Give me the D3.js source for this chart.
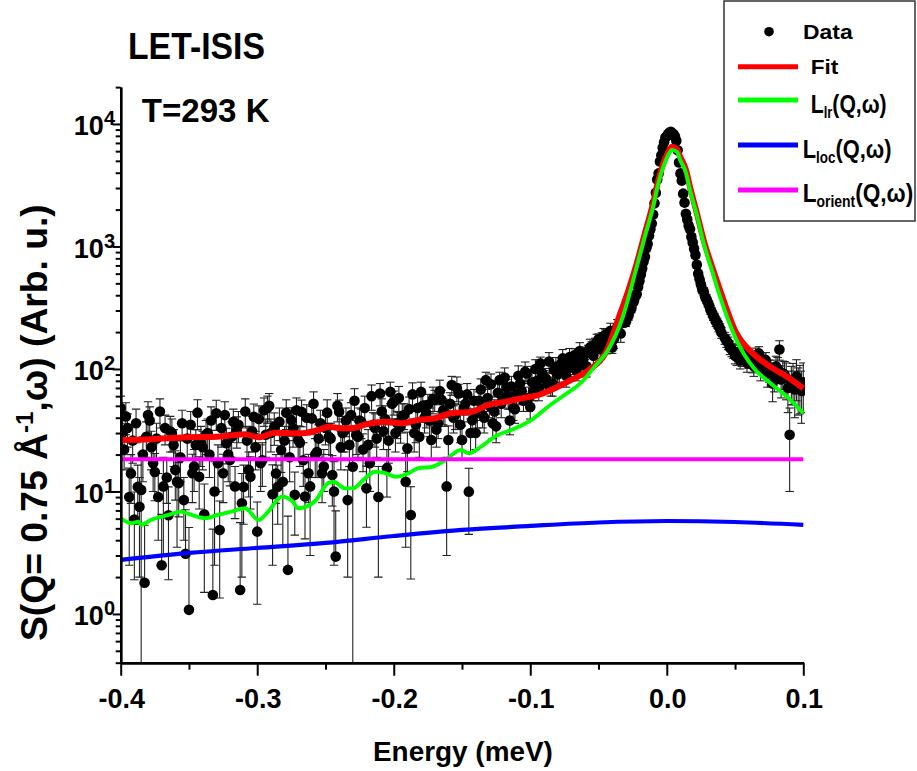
<!DOCTYPE html>
<html>
<head>
<meta charset="utf-8">
<title>LET-ISIS S(Q,ω)</title>
<script src="https://cdn.jsdelivr.net/npm/d3@7/dist/d3.min.js"></script>
<style>
html,body{margin:0;padding:0;background:#fff;}
svg{display:block;}
text{font-family:"Liberation Sans",Arial,Helvetica,sans-serif;font-weight:bold;fill:#000;}
</style>
</head>
<body>
<svg id="chart" width="917" height="771"></svg>
<script>
// ---------------- data ----------------
// Data series, part A
const energy = [
-0.4,-0.3975,-0.395,-0.3925,-0.39,-0.3875,-0.385,-0.3825,-0.38,-0.3775,
-0.375,-0.3725,-0.37,-0.3675,-0.365,-0.3625,-0.36,-0.3575,-0.355,-0.3525,
-0.35,-0.3475,-0.345,-0.3425,-0.34,-0.3375,-0.335,-0.3325,-0.33,-0.3275,
-0.325,-0.3225,-0.32,-0.3175,-0.315,-0.3125,-0.31,-0.3075,-0.305,-0.3025,
-0.3,-0.2975,-0.295,-0.2925,-0.29,-0.2875,-0.285,-0.2825,-0.28,-0.2775,
-0.275,-0.2725,-0.27,-0.2675,-0.265,-0.2625,-0.26,-0.2575,-0.255,-0.2525,
-0.25,-0.2475,-0.245,-0.2425,-0.24,-0.2375,-0.235,-0.2325,-0.23,-0.2275,
-0.225,-0.2225,-0.22,-0.2175,-0.215,-0.2125,-0.21,-0.2075,-0.205,-0.2025,
-0.2,-0.1975,-0.195,-0.1925,-0.19,-0.1875,-0.185,-0.1825,-0.18,-0.1775,
-0.175,-0.1725,-0.17,-0.1675,-0.165,-0.1625,-0.16,-0.1575,-0.155,-0.1525,
-0.15,-0.1475,-0.145,-0.1425,-0.14,-0.1375,-0.135,-0.1325,-0.13,-0.1275,
-0.125,-0.1225,-0.12,-0.1175,-0.115,-0.1125,-0.11,-0.1075,-0.105,-0.1025,
-0.1,-0.0975,-0.095,-0.0925,-0.09,-0.0875,-0.085,-0.0825,-0.08,-0.0775,
-0.075,-0.0725,-0.07,-0.0675,-0.065,-0.0625,-0.06,-0.0575,-0.055,-0.0525,
-0.05,-0.0475,-0.045,-0.0425,-0.04,-0.0375,-0.035,-0.0325,
-0.03,-0.029,-0.028,-0.027,-0.026,-0.025,-0.024,-0.023,-0.022,-0.021,
-0.02,-0.019,-0.018,-0.017,-0.016,-0.015,-0.014,-0.013,-0.012,-0.011,
-0.01,-0.009,-0.008,-0.007,-0.006,-0.005,-0.004,-0.003,-0.002,-0.001,
0,0.001,0.002,0.003,0.004,0.005,0.006,0.007,0.008,0.009,
0.01,0.011,0.012,0.013,0.014,0.015,0.016,0.017,0.018,0.019,
0.02,0.021,0.022,0.023,0.024,0.025,0.026,0.027,0.028,0.029,
0.03,0.031,0.032,0.033,0.034,0.035,0.036,0.037,0.038,0.039,0.04,
0.0425,0.045,0.0475,
0.05,0.0525,0.055,0.0575,0.06,0.0625,0.065,0.0675,0.07,0.0725,
0.075,0.0775,0.08,0.0825,0.085,0.0875,0.09,0.0925,0.095,0.0975,
0.1];

const intensity = [
48,22,33,14,5.9,10.9,10.3,1.8,42,23,
14.4,9.0,2.5,33,6.4,30,15,11.7,36,3.1,
1.08,14.1,24,13.2,23,29,20,1.43,43.5,4.85,
14.1,24.8,18.1,37,31.6,1.57,10.9,26,13.2,40.7,
4.7,17,46,48,30,33.8,10.9,21.8,26,2.29,
38.2,9.4,26.3,44.7,9.1,14.1,39.5,20,27,14.1,
33,28,13.6,2.94,44.7,30,38,24,15.9,29,
38,22,10.6,17,35,27,63,31,15.5,65,
54,36,33.8,42,22.5,6.43,30,48,65,40,
51,26.3,55.9,36,55.9,44,26.3,74,42,63,
26.3,52,9.96,38.2,30,55,42,81,50,36,
34,81,58,71,38,48,62,76,55,92,
49,66,80,111,85,75,71,98,90,110,
108,100,118,130,120,112,135,140,150,160,
175,180,190,160,150,200,230,240,
242,262,272,300,312,345,360,395,410,470,
525,590,660,755,825,965,1050,1230,1380,1540,
1820,2250,2750,3520,3950,4950,5550,6400,7100,7750,
7950,8300,8500,8650,8400,8250,7900,7300,6100,4850,
3950,3450,2700,2280,1850,1660,1480,1380,1200,1080,
960,850,710,600,540,490,445,430,390,375,
350,330,305,290,272,262,244,238,222,214,198,
179,163,144,
128,138,123,132,118,110,130,134,114,118,
98,76,105,144,92,84,29,81,87,75,
78];

const errors = [
12,7,10,6,4,5.5,10.2,3.5,12,8,
6,5,4,9,4.5,9,6.5,5.5,10,4,
4,6,8,6,8,9,7,3.5,12,3.5,
6,8,7,10,9,4,5.5,8,6,11,
3.5,7,12,12,9,10,5.5,7.5,8,4,
10,5,8,11,5,6,10,7,8,6,
9,8,6,4,11,9,10,8,15.7,9,
10,7.5,5.5,7,9,8,13,9,6.5,13,
12,9,9,10,8,4.5,9,11,13,10,
11,8,11,9,11,10,8,13,10,12,
8,10,5.5,9,8,10,9,13,10,9,
9,13,10,11,9,10,11,12,10,13,
10,11,12,14,12,11,11,13,12,14,
14,13,15,16,15,14,16,16,17,18,
18,18,19,17,16,19,21,22,
20,21,22,23,24,25,26,28,29,32,
35,38,42,47,51,58,63,72,80,88,
100,120,140,170,190,230,255,290,320,345,
355,370,375,380,370,365,355,330,285,235,
200,175,145,125,105,95,88,82,72,66,
60,54,47,41,38,35,33,32,30,29,
28,27,25,24,23,23,22,22,21,20,20,
20,19,18,
18,18,18,18,17,17,18,18,18,18,
20,22,22,26,24,28,19,30,32,32,
34];

// Data series, part B (points between those of part A)
const energyB = [
-0.39875,-0.39625,-0.39375,-0.39125,-0.38875,-0.38625,-0.38375,-0.38125,-0.37875,-0.37625,
-0.37375,-0.37125,-0.36875,-0.36625,-0.36375,-0.36125,-0.35875,-0.35625,-0.35375,-0.35125,
-0.34875,-0.34625,-0.34375,-0.34125,-0.33875,-0.33625,-0.33375,-0.33125,-0.32875,-0.32625,
-0.32375,-0.32125,-0.31875,-0.31625,-0.31375,-0.31125,-0.30875,-0.30625,-0.30375,-0.30125,
-0.29875,-0.29625,-0.29375,-0.29125,-0.28875,-0.28625,-0.28375,-0.28125,-0.27875,-0.27625,
-0.27375,-0.27125,-0.26875,-0.26625,-0.26375,-0.26125,-0.25875,-0.25625,-0.25375,-0.25125,
-0.24875,-0.24625,-0.24375,-0.24125,-0.23875,-0.23625,-0.23375,-0.23125,-0.22875,-0.22625,
-0.22375,-0.22125,-0.21875,-0.21625,-0.21375,-0.21125,-0.20875,-0.20625,-0.20375,-0.20125,
-0.19875,-0.19625,-0.19375,-0.19125,-0.18875,-0.18625,-0.18375,-0.18125,-0.17875,-0.17625,
-0.17375,-0.17125,-0.16875,-0.16625,-0.16375,-0.16125,-0.15875,-0.15625,-0.15375,-0.15125,
-0.14875,-0.14625,-0.14375,-0.14125,-0.13875,-0.13625,-0.13375,-0.13125,-0.12875,-0.12625,
-0.12375,-0.12125,-0.11875,-0.11625,-0.11375,-0.11125,-0.10875,-0.10625,-0.10375,-0.10125,
-0.09875,-0.09625,-0.09375,-0.09125,-0.08875,-0.08625,-0.08375,-0.08125,-0.07875,-0.07625,
-0.07375,-0.07125,-0.06875,-0.06625,-0.06375,-0.06125,-0.05875,-0.05625,-0.05375,-0.05125,
-0.04875,-0.04625,-0.04375,-0.04125,-0.03875,-0.03625,-0.03375,
0.04375,0.04625,0.04875,0.05125,0.05375,0.05625,0.05875,0.06125,0.06375,0.06625,
0.06875,0.07125,0.07375,0.07625,0.07875,0.08125,0.08375,0.08625,0.08875,0.09125,
0.09375,0.09625,0.09875];

const intensityB = [
30,41,9,26,36,7.5,20,28,38,17,
27,45,11,13,31,24,12,19,8.5,27,
35,16,44,25,6.5,30,38,10,17,33,
42,20,28,11,35,8,45,15,31,23,
39,18,29,50,9.5,14,37,12,44,19,
33,46,25,18,40,11,52,21,36,16,
44,27,10,50,23,31,8.5,42,55,28,
37,48,24,60,33,9,45,39,26,52,
30,58,41,12,47,62,35,28,50,44,
38,57,32,66,46,11,52,40,70,35,
48,62,30,55,44,68,40,58,75,45,
64,52,85,60,72,47,88,66,95,58,
78,100,70,92,84,115,76,104,95,122,
88,125,110,98,140,120,105,150,128,165,
145,185,158,205,175,220,195,
170,150,140,125,118,128,112,120,105,115,
100,108,92,96,88,100,82,90,70,78,
68,72,66];

const errorsB = [
10,12,6.5,9,11,5.5,8,9,11,7,
9,12,8,5,10,8,8.5,7,4.5,9,
10,6,12,9,5,9,11,7.5,7,10,
12,8,9,5,10,6,12,6,10,8,
11,7,10,13,7,6,11,8.5,12,7,
10,12,9,7,11,8,13,8,10,6,
12,9,7.5,13,8,10,6.5,11,14,9,
10,12,8,14,10,7,12,11,9,13,
9,14,11,8.5,12,15,10,9,12,11,
10,14,9,15,11,8,12,10,16,10,
11,14,9,13,11,15,10,13,16,11,
14,12,17,13,15,11,18,14,19,13,
16,19,15,18,17,21,16,20,18,22,
17,22,20,18,24,21,19,25,22,27,
24,29,25,31,28,33,30,
20,19,18,18,18,18,18,18,18,19,
20,20,21,22,23,24,24,25,26,27,
28,30,30];

// Fit (red)
const fitE = [-0.4,-0.378,-0.353,-0.329,-0.309,-0.299,-0.287,-0.274,-0.267,-0.255,
-0.248,-0.238,-0.231,-0.219,-0.206,-0.194,-0.182,-0.170,-0.158,-0.143,
-0.131,-0.118,-0.106,-0.094,-0.082,-0.070,-0.057,-0.045,-0.034,-0.028,
-0.022,-0.016,-0.010,-0.0065,-0.0025,0.0011,0.0037,0.0075,0.0098,0.0141,
0.017,0.022,0.027,0.033,0.039,0.051,0.063,0.076,0.088,0.1];
const fitV = [26.3,26.7,27.7,28.0,29.3,27.7,30.2,29.9,29.9,31.8,
33.8,32.8,32.8,35.6,37.1,36.0,38.4,39.6,43.5,44.8,
50.8,54.1,57.6,61.3,69.6,81.3,98.2,134,286,441,
729,1288,2253,3365,4776,5900,6530,6200,5410,4210,
3077,1877,1130,693,441,196,134,104,86.5,69.6];

// L_lr (green)
const lrE = [-0.4,-0.392,-0.387,-0.385,-0.378,-0.365,-0.356,-0.348,-0.338,-0.329,
-0.319,-0.309,-0.299,-0.292,-0.282,-0.274,-0.270,-0.258,-0.248,-0.244,
-0.236,-0.230,-0.221,-0.214,-0.206,-0.199,-0.189,-0.182,-0.172,-0.162,
-0.151,-0.145,-0.136,-0.126,-0.111,-0.099,-0.087,-0.075,-0.062,-0.053,
-0.043,-0.033,-0.022,-0.016,-0.010,-0.0065,-0.0025,0.0011,0.0037,0.0075,
0.0098,0.0141,0.017,0.022,0.027,0.033,0.039,0.051,0.063,0.076,0.088,0.1];
const lrV = [6.04,5.50,5.67,5.33,5.85,6.43,6.84,6.43,6.04,6.43,
6.84,7.29,5.85,6.84,9.07,8.26,7.29,8.26,11.7,12.0,
10.6,10.6,12.8,14.5,14.1,13.2,14.1,15.5,15.9,18.1,
21.8,20.5,23.2,28.0,32.8,38.4,49.2,61.3,78.8,104,
143,251,684,1218,2115,3180,4480,5590,6140,5900,
5080,3980,2890,1807,1062,643,389,173,104,76.4,59.4,43.5];

// L_loc (blue)
const locE = [-0.4,-0.35,-0.3,-0.25,-0.2,-0.15,-0.1,-0.05,0,0.05,0.1];
const locV = [2.76,3.15,3.46,3.80,4.33,4.85,5.23,5.58,5.74,5.63,5.33];

// L_orient (magenta)
const orientE = [-0.4,0.1];
const orientV = [18.3,18.3];

// ticks
const xTicks = [-0.4,-0.3,-0.2,-0.1,0.0,0.1];
const xTickLabels = ["-0.4","-0.3","-0.2","-0.1","0.0","0.1"];
const xMinorTicks = [-0.35,-0.25,-0.15,-0.05,0.05];
const yTicks = [1,10,100,1000,10000];
const yTickExponents = ["0","1","2","3","4"];
const yMinorTicks = [0.4,0.5,0.6,0.7,0.8,0.9,
 2,3,4,5,6,7,8,9, 20,30,40,50,60,70,80,90,
 200,300,400,500,600,700,800,900, 2000,3000,4000,5000,6000,7000,8000,9000, 20000];

// ---------------- drawing ----------------
const svg = d3.select("#chart");
const X0 = 120.7, X1 = 803.3, Y0 = 662.7, Y1 = 87.1;
const x = d3.scaleLinear().domain([-0.4, 0.1]).range([X0, X1]);
const y = d3.scaleLog().domain([0.4, 20000]).range([Y0, Y1]);

svg.append("rect").attr("width",917).attr("height",771).attr("fill","#fff");

svg.append("defs").append("clipPath").attr("id","clip").append("rect")
  .attr("x", X0).attr("y", 0).attr("width", 805 - X0).attr("height", Y0);

const plot = svg.append("g").attr("clip-path","url(#clip)");
const pts = energy.map((e,i)=>({e:e, v:intensity[i], s:errors[i]}))
  .concat(energyB.map((e,i)=>({e:e, v:intensityB[i], s:errorsB[i]})));

// error bars
const eb = plot.append("g").attr("stroke","#222").attr("stroke-width",1.1).attr("fill","none");
const cap = 4.2;
pts.forEach(p=>{
  const px = x(p.e);
  const hi = p.v + p.s, lo = p.v - p.s;
  const yHi = y(hi);
  const yLo = lo > 0 ? y(lo) : y(p.v);
  eb.append("line").attr("x1",px).attr("x2",px).attr("y1",yHi).attr("y2",Math.min(yLo, Y0+5));
  eb.append("line").attr("x1",px-cap).attr("x2",px+cap).attr("y1",yHi).attr("y2",yHi);
  if (lo > 0 && yLo < Y0) eb.append("line").attr("x1",px-cap).attr("x2",px+cap).attr("y1",yLo).attr("y2",yLo);
});

// points
plot.append("g").selectAll("circle").data(pts).join("circle")
  .attr("cx", d=>x(d.e)).attr("cy", d=>y(d.v)).attr("r", 5.3).attr("fill","#000");

// curves
function drawCurve(E, V, color, w){
  const line = d3.line().x(d=>x(d[0])).y(d=>y(d[1])).curve(d3.curveMonotoneX);
  plot.append("path").datum(E.map((e,i)=>[e,V[i]]))
    .attr("d", line).attr("fill","none").attr("stroke",color)
    .attr("stroke-width",w).attr("stroke-linejoin","round");
}
drawCurve(fitE, fitV, "#ff0000", 6);
drawCurve(lrE, lrV, "#00ff00", 3.9);
drawCurve(locE, locV, "#0000ff", 4.2);
drawCurve(orientE, orientV, "#ff00ff", 4);

// axes
const axStyle = g => {
  g.select(".domain").attr("stroke","#000").attr("stroke-width",2.4);
  g.selectAll(".tick line").attr("stroke","#000").attr("stroke-width",2);
};
svg.append("g").attr("transform",`translate(0,${Y0})`)
  .call(d3.axisBottom(x).tickValues(xMinorTicks).tickSize(7).tickSizeOuter(0).tickFormat(""))
  .call(axStyle);
svg.append("g").attr("transform",`translate(0,${Y0})`)
  .call(d3.axisBottom(x).tickValues(xTicks).tickSize(13).tickSizeOuter(0).tickFormat(""))
  .call(axStyle);
svg.append("g").attr("transform",`translate(${X0},0)`)
  .call(d3.axisLeft(y).tickValues(yMinorTicks).tickSize(5).tickSizeOuter(0).tickFormat(""))
  .call(axStyle);
svg.append("g").attr("transform",`translate(${X0},0)`)
  .call(d3.axisLeft(y).tickValues(yTicks).tickSize(8).tickSizeOuter(0).tickFormat(""))
  .call(axStyle);

// x tick labels
svg.append("g").selectAll("text").data(xTicks).join("text")
  .attr("x", d=>x(d)+1).attr("y", 708.3).attr("text-anchor","middle")
  .attr("font-size",27).text((d,i)=>xTickLabels[i]);

// y tick labels (10^n)
yTicks.forEach((v,i)=>{
  const t = svg.append("text").attr("x", 115).attr("y", y(v)+11.5)
    .attr("text-anchor","end").attr("font-size",27);
  t.append("tspan").text("10");
  t.append("tspan").attr("font-size",20).attr("dy",-10).text(yTickExponents[i]);
});

// text helper: scale horizontally so text spans the measured width
function fitText(parent, x0, base, width, build, rotate){
  const g = parent.append("g");
  const t = g.append("text");
  build(t);
  const bb = t.node().getBBox();
  const s = width / bb.width;
  if (rotate) g.attr("transform",`translate(${base},${x0}) rotate(-90) scale(${s},1) translate(${-bb.x},0)`);
  else g.attr("transform",`translate(${x0},${base}) scale(${s},1) translate(${-bb.x},0)`);
  return g;
}

fitText(svg, 128, 59.3, 137, t=>t.attr("font-size",37).text("LET-ISIS"));
fitText(svg, 141.7, 121.7, 128.3, t=>t.attr("font-size",34).text("T=293 K"));
fitText(svg, 373, 761, 180, t=>t.attr("font-size",27).text("Energy (meV)"));
fitText(svg, 641, 47, 437, t=>{
  t.attr("font-size",37);
  t.append("tspan").text("S(Q= 0.75 Å");
  t.append("tspan").attr("font-size",24).attr("dy",-14).text("-1");
  t.append("tspan").attr("dy",14).text(",ω) (Arb. u.)");
}, true);

// legend
const lg = svg.append("g");
lg.append("rect").attr("x",724).attr("y",1).attr("width",191).attr("height",220)
  .attr("fill","#fff").attr("stroke","#333").attr("stroke-width",1.5);
lg.append("circle").attr("cx",769).attr("cy",31.7).attr("r",4.8).attr("fill","#000");
fitText(lg, 803, 39.3, 50, t=>t.attr("font-size",21).text("Data"));
const legLines = [
  {y:66.7, c:"#ff0000"}, {y:100, c:"#00ff00"}, {y:145, c:"#0000ff"}, {y:190, c:"#ff00ff"}
];
legLines.forEach(d=>{
  lg.append("line").attr("x1",738).attr("x2",798).attr("y1",d.y).attr("y2",d.y)
    .attr("stroke",d.c).attr("stroke-width",5);
});
fitText(lg, 810.7, 74, 27.6, t=>t.attr("font-size",21).text("Fit"));
function Llabel(sub){
  return t=>{
    t.attr("font-size",26);
    t.append("tspan").text("L");
    t.append("tspan").attr("font-size",16).attr("dy",5).text(sub);
    t.append("tspan").attr("dy",-5).text("(Q,ω)");
  };
}
fitText(lg, 810.7, 112.7, 76, Llabel("lr"));
fitText(lg, 802.7, 157.7, 89, Llabel("loc"));
fitText(lg, 802.7, 201.7, 110.6, Llabel("orient"));
</script>
</body>
</html>
